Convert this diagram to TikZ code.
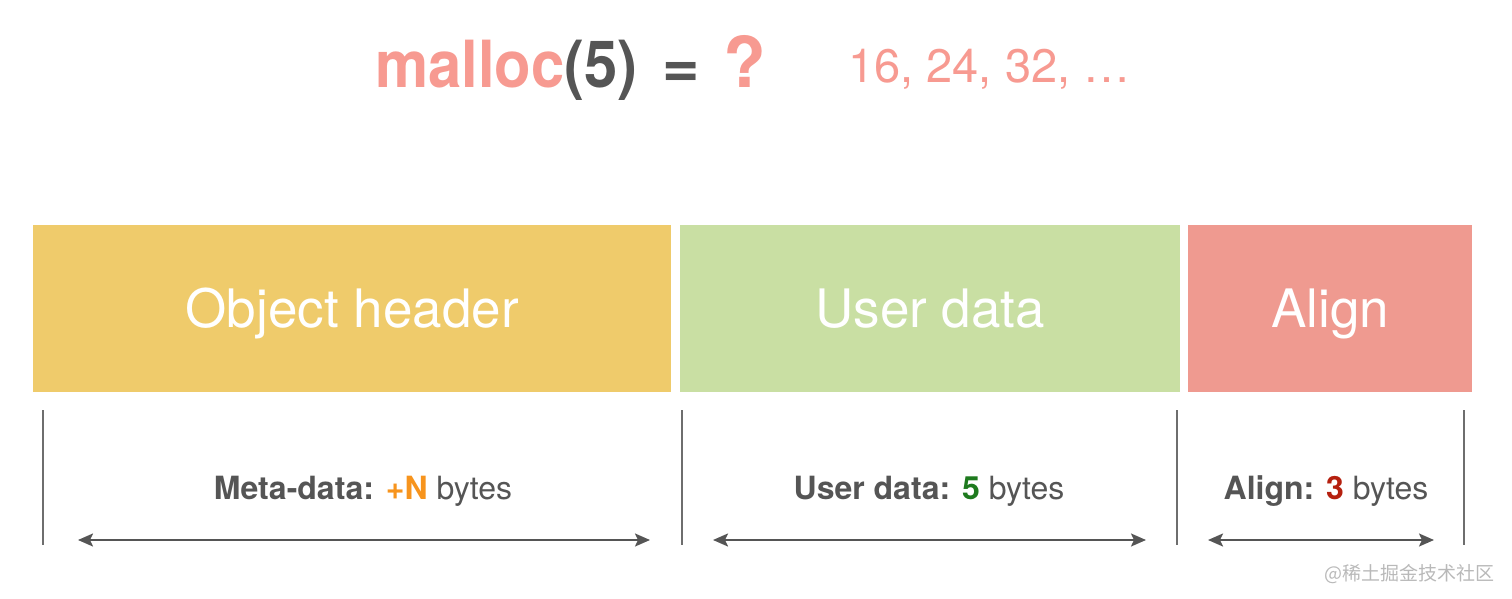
\documentclass[tikz,border=0pt]{standalone}
\usepackage{fontspec}
\setmainfont{TeX Gyre Heros}
\newfontfamily\titlefont[FakeStretch=0.92]{TeX Gyre Heros}
\newfontfamily\cjkfont{Noto Sans CJK SC}
\usetikzlibrary{arrows,arrows.meta}

\definecolor{salmon}{HTML}{F79A91}
\definecolor{hdrcol}{HTML}{EFCB6B}
\definecolor{usrcol}{HTML}{C9DFA3}
\definecolor{algcol}{HTML}{EF9A90}
\definecolor{txtgray}{HTML}{555555}
\definecolor{nOrange}{HTML}{F7941D}
\definecolor{fiveGreen}{HTML}{1E7A1E}
\definecolor{threeRed}{HTML}{B5200F}

\tikzset{
  block/.style={rectangle, anchor=north west, inner sep=0pt, minimum height=167pt,
    text height=38pt, text depth=0pt, text=white, font=\fontsize{53}{60}\selectfont},
  lbl/.style={text=txtgray, font=\fontsize{32}{38}\selectfont},
  divider/.style={draw=txtgray!85, line width=1.4pt},
  span/.style={arrows={Stealth[length=15pt,width=13pt,inset=3pt]-Stealth[length=15pt,width=13pt,inset=3pt]},
    draw=txtgray, line width=2pt}
}

\begin{document}
\begin{tikzpicture}[x=1pt,y=-1pt]
\useasboundingbox (0,0) rectangle (1512,599);

 % title
 \draw (375,88) node[anchor=base west, inner sep=0pt, text=txtgray, font=\titlefont\fontsize{65}{70}\selectfont\bfseries] (call) {\textcolor{salmon}{malloc}(5)};
 \draw (681,88) node[anchor=base, inner sep=0pt, text=txtgray, font=\fontsize{64}{70}\selectfont\bfseries] (eq) {=};
 \draw (745,88) node[anchor=base, inner sep=0pt, text=salmon, font=\fontsize{70}{70}\selectfont\bfseries] (quest) {?};
 \draw (848,83) node[anchor=base west, inner sep=0pt, text=salmon, font=\fontsize{47}{50}\selectfont] (sizes) {16, 24, 32, \dots};

 % blocks
 \draw (33,225) node[block, fill=hdrcol, minimum width=638pt] (objhdr) {Object header};
 \draw (680,225) node[block, fill=usrcol, minimum width=500pt] (usrdata) {User data};
 \draw (1188,225) node[block, fill=algcol, minimum width=284pt] (align) {Align};

 % dividers
 \coordinate (t1) at (43,410);   \coordinate (b1) at (43,545);
 \coordinate (t2) at (682,410);  \coordinate (b2) at (682,545);
 \coordinate (t3) at (1177,410); \coordinate (b3) at (1177,545);
 \coordinate (t4) at (1464,410); \coordinate (b4) at (1464,545);
 \draw[divider] (t1) -- (b1);
 \draw[divider] (t2) -- (b2);
 \draw[divider] (t3) -- (b3);
 \draw[divider] (t4) -- (b4);

 % spans
 \coordinate (l1) at (78,540);   \coordinate (r1) at (650,540);
 \coordinate (l2) at (713,540);  \coordinate (r2) at (1146,540);
 \coordinate (l3) at (1208,540); \coordinate (r3) at (1434,540);
 \draw[span] (l1) -- (r1);
 \draw[span] (l2) -- (r2);
 \draw[span] (l3) -- (r3);

 \draw (363,491) node[lbl] (metalbl) {\textbf{Meta-data:} \textcolor{nOrange}{\textbf{+N}} bytes};
 \draw (929,491) node[lbl] (usrlbl) {\textbf{User data:} \textcolor{fiveGreen}{\textbf{5}} bytes};
 \draw (1326,491) node[lbl] (alglbl) {\textbf{Align:} \textcolor{threeRed}{\textbf{3}} bytes};

 \draw (1495,580) node[anchor=base east, inner sep=0pt, text=gray!55, font=\cjkfont\fontsize{19}{22}\selectfont] (mark) {@稀土掘金技术社区};

\end{tikzpicture}
\end{document}
